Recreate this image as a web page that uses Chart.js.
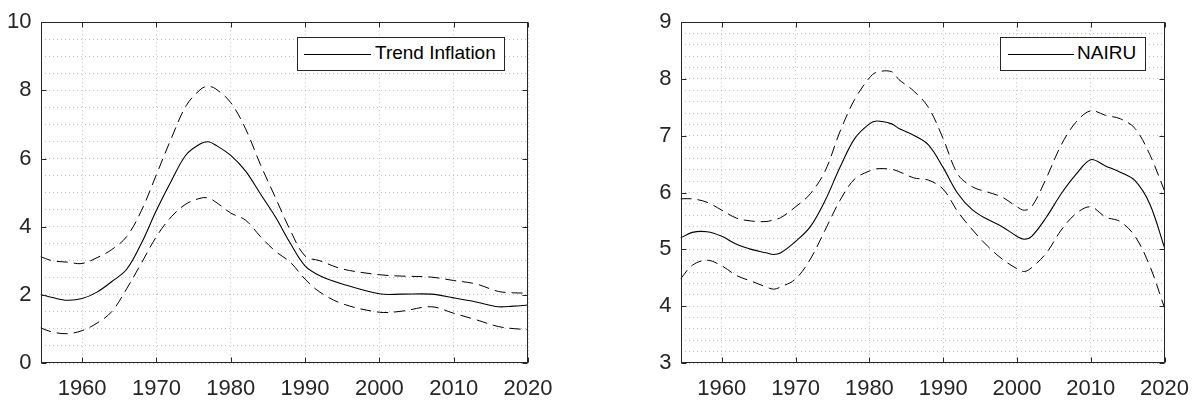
<!DOCTYPE html>
<html>
<head>
<meta charset="utf-8">
<script src="https://cdn.jsdelivr.net/npm/chart.js@4.4.1/dist/chart.umd.min.js"></script>
<style>
  body { margin: 0; background: #fff; width: 1202px; height: 403px; position: relative; overflow: hidden; font-family: "Liberation Sans", Arial, sans-serif; }
  canvas { position: absolute; top: 0; }
  .legend { position: absolute; top: 37px; height: 32px; border: 1px solid #262626; background: #fff; }
  .legend .ln { position: absolute; top: 16px; height: 0; border-top: 1px solid #000; }
  .legend .tx { position: absolute; top: 4px; font-size: 19px; color: #000; white-space: nowrap; }
</style>
</head>
<body>
<canvas id="inflation" width="600" height="403" style="left:0"></canvas>
<canvas id="nairu" width="602" height="403" style="left:600px"></canvas>

<div class="legend" style="left:297px; width:206px;">
  <div class="ln" style="left:6px; width:67px;"></div>
  <div class="tx" style="left:77px;">Trend Inflation</div>
</div>
<div class="legend" style="left:1000px; width:144px;">
  <div class="ln" style="left:7px; width:66px;"></div>
  <div class="tx" style="left:76px;">NAIRU</div>
</div>

<script>
// left panel: trend inflation with bands
var inflYears = [1954.4, 1956, 1958, 1960, 1962, 1964, 1966, 1968, 1970, 1972, 1974, 1976, 1977, 1978, 1980, 1982, 1984, 1986, 1988, 1990, 1992, 1995, 2000, 2003, 2007, 2010, 2013, 2016, 2018, 2020];
var inflTrend = [2.01, 1.92, 1.84, 1.89, 2.08, 2.39, 2.75, 3.52, 4.48, 5.34, 6.11, 6.44, 6.49, 6.39, 6.09, 5.63, 4.96, 4.29, 3.52, 2.85, 2.56, 2.32, 2.03, 2.02, 2.02, 1.91, 1.79, 1.65, 1.67, 1.70];
var inflUpper = [3.12, 3.00, 2.96, 2.92, 3.09, 3.33, 3.71, 4.48, 5.53, 6.59, 7.55, 8.04, 8.12, 8.04, 7.64, 6.87, 5.82, 4.86, 3.90, 3.14, 3.00, 2.76, 2.59, 2.55, 2.52, 2.42, 2.32, 2.10, 2.06, 2.05];
var inflLower = [1.03, 0.91, 0.86, 0.95, 1.17, 1.51, 2.18, 2.94, 3.71, 4.29, 4.67, 4.84, 4.84, 4.72, 4.40, 4.19, 3.71, 3.28, 2.96, 2.46, 2.08, 1.74, 1.49, 1.52, 1.65, 1.46, 1.27, 1.07, 1.01, 0.98];

// right panel: NAIRU with bands
var nairuYears = [1954.4, 1956, 1958, 1960, 1962, 1964, 1966, 1967, 1968, 1970, 1972, 1974, 1976, 1978, 1980, 1981, 1983, 1984, 1986, 1988, 1990, 1992, 1994, 1996, 1998, 2000, 2001, 2002, 2004, 2006, 2008, 2010, 2012, 2014, 2016, 2018, 2020];
var nairuTrend = [5.20, 5.30, 5.31, 5.23, 5.09, 5.00, 4.94, 4.91, 4.94, 5.14, 5.40, 5.86, 6.44, 6.95, 7.21, 7.26, 7.21, 7.13, 7.01, 6.84, 6.44, 5.98, 5.69, 5.53, 5.40, 5.23, 5.18, 5.23, 5.57, 5.98, 6.32, 6.58, 6.47, 6.36, 6.21, 5.80, 5.03];
var nairuUpper = [5.89, 5.89, 5.83, 5.69, 5.55, 5.50, 5.49, 5.52, 5.56, 5.75, 5.98, 6.38, 7.07, 7.64, 8.02, 8.12, 8.13, 7.99, 7.79, 7.50, 6.95, 6.32, 6.10, 6.01, 5.92, 5.75, 5.69, 5.75, 6.26, 6.84, 7.24, 7.44, 7.36, 7.30, 7.13, 6.67, 6.03];
var nairuLower = [4.48, 4.72, 4.81, 4.71, 4.54, 4.44, 4.34, 4.30, 4.34, 4.48, 4.83, 5.34, 5.86, 6.24, 6.38, 6.42, 6.41, 6.37, 6.26, 6.22, 6.06, 5.66, 5.34, 5.06, 4.83, 4.66, 4.61, 4.68, 4.94, 5.34, 5.63, 5.75, 5.57, 5.49, 5.23, 4.71, 3.97];

var xTicks = [1960, 1970, 1980, 1990, 2000, 2010, 2020];
var inflYTicks = [0, 2, 4, 6, 8, 10];
var nairuYTicks = [3, 4, 5, 6, 7, 8, 9];

var axisColor = '#262626';
var gridColor = '#bfbfbf';
var fontFamily = '"Liberation Sans", Arial, sans-serif';

function pts(xs, ys) {
    return xs.map(function (x, i) { return { x: x, y: ys[i] }; });
}

function isMajor(v, majors) {
    return majors.some(function (m) { return Math.abs(m - v) < 1e-6; });
}

// box round the axes with ticks pointing inward, like matlab
var boxPlugin = {
    id: 'box',
    afterDraw: function (chart) {
        var ctx = chart.ctx, a = chart.chartArea;
        var xs = chart.scales.x, ys = chart.scales.y;
        var majors = chart.options.plugins.box.yMajor;
        var L = Math.round(a.left) + 0.5, R = Math.round(a.right) - 0.5;
        var T = Math.round(a.top) + 0.5, B = Math.round(a.bottom) - 0.5;
        ctx.save();
        ctx.strokeStyle = axisColor;
        ctx.lineWidth = 1;
        ctx.beginPath();
        xTicks.forEach(function (v) {
            var px = Math.round(xs.getPixelForValue(v)) + 0.5;
            ctx.moveTo(px, B); ctx.lineTo(px, B - 5);
            ctx.moveTo(px, T); ctx.lineTo(px, T + 5);
        });
        majors.forEach(function (v) {
            var py = Math.round(ys.getPixelForValue(v)) + 0.5;
            ctx.moveTo(L, py); ctx.lineTo(L + 5, py);
            ctx.moveTo(R, py); ctx.lineTo(R - 5, py);
        });
        ctx.stroke();
        ctx.strokeRect(L, T, R - L, B - T);
        ctx.restore();
    }
};

function makeChart(id, years, upper, trend, lower, yMin, yMax, yMajor, yMinor, yWidth, padRight) {
    var ctx = document.getElementById(id).getContext('2d');
    var band = { borderColor: '#000', borderWidth: 1, borderDash: [11, 6], pointRadius: 0, tension: 0.35, fill: false };
    return new Chart(ctx, {
        type: 'line',
        data: {
            datasets: [
                Object.assign({ label: 'upper', data: pts(years, upper) }, band),
                { label: 'trend', data: pts(years, trend), borderColor: '#000', borderWidth: 1.1, pointRadius: 0, tension: 0.35, fill: false },
                Object.assign({ label: 'lower', data: pts(years, lower) }, band)
            ]
        },
        plugins: [boxPlugin],
        options: {
            responsive: false,
            animation: false,
            layout: { padding: { top: 14, right: padRight, left: 0, bottom: 0 } },
            plugins: {
                legend: { display: false },
                tooltip: { enabled: false },
                box: { yMajor: yMajor }
            },
            scales: {
                x: {
                    type: 'linear',
                    min: 1954.4,
                    max: 2020,
                    afterBuildTicks: function (scale) {
                        scale.ticks = xTicks.map(function (v) { return { value: v }; });
                    },
                    afterFit: function (scale) { scale.height = 40; },
                    grid: { color: gridColor, lineWidth: 1, drawTicks: false },
                    border: { display: false, dash: [1, 3] },
                    ticks: {
                        color: axisColor,
                        padding: 13,
                        maxRotation: 0,
                        font: { family: fontFamily, size: 22 },
                        callback: function (v) { return String(v); }
                    }
                },
                y: {
                    min: yMin,
                    max: yMax,
                    afterBuildTicks: function (scale) {
                        var t = [];
                        for (var v = yMin; v <= yMax + 1e-9; v += yMinor) {
                            t.push({ value: Math.round(v * 100) / 100 });
                        }
                        scale.ticks = t;
                    },
                    afterFit: function (scale) { scale.width = yWidth; },
                    grid: { color: gridColor, lineWidth: 1, drawTicks: false },
                    border: { display: false, dash: [1, 3] },
                    ticks: {
                        color: axisColor,
                        padding: 9,
                        autoSkip: false,
                        font: { family: fontFamily, size: 22 },
                        callback: function (v) { return isMajor(v, yMajor) ? String(v) : ''; }
                    }
                }
            }
        }
    });
}

makeChart('inflation', inflYears, inflUpper, inflTrend, inflLower, 0, 10, inflYTicks, 0.5, 40.5, 72);
makeChart('nairu', nairuYears, nairuUpper, nairuTrend, nairuLower, 3, 9, nairuYTicks, 0.2, 80.5, 35);
</script>
</body>
</html>
